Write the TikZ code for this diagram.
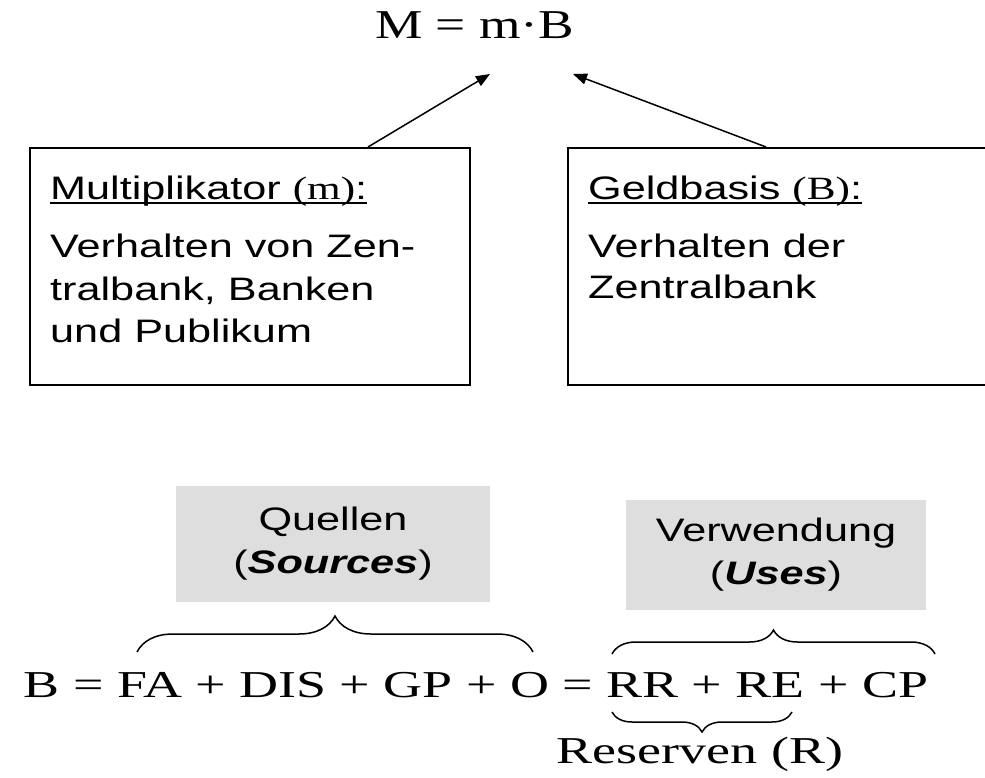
\documentclass[tikz,border=0pt]{standalone}
\usepackage{fontspec}
\setmainfont{Liberation Serif}
\newfontfamily\formelfont[FakeStretch=1.42]{Liberation Serif}
\newfontfamily\kopffont[FakeStretch=1.3]{Liberation Serif}
\newfontfamily\kastenfont[FakeStretch=1.33]{Liberation Sans}
\newfontfamily\kastenserif[FakeStretch=1.33]{Liberation Serif}
\usetikzlibrary{arrows.meta, positioning, decorations.pathreplacing}
\newcommand\unterstr[1]{\setbox0\hbox{#1}\rlap{\rule[-4pt]{\wd0}{2pt}}\box0}

\begin{document}
\begin{tikzpicture}[x=1pt, y=-1pt,
        kasten/.style={draw, line width=2pt, minimum width=440pt, minimum height=237pt, anchor=north west, inner sep=0pt},
        zeile/.style={anchor=base west, inner sep=0pt, font=\kastenfont\fontsize{32.5}{40}\selectfont},
        grau/.style={fill=black!13, inner sep=0pt, align=center, font=\kastenfont\fontsize{32.5}{43}\selectfont},
        formel/.style={anchor=base, inner sep=0pt, font=\formelfont\fontsize{38}{44}\selectfont},
        pfeil/.style={-{Triangle[length=14pt, width=11pt]}, line width=1.5pt},
        klammer/.style={decorate, decoration={brace, amplitude=#1}, line width=1.5pt}
    ]
    \useasboundingbox (0,0) rectangle (985,778);
    \clip (0,0) rectangle (985,778);

    % Geldmenge oben
    \node[anchor=base, inner sep=0pt, font=\kopffont\fontsize{41}{48}\selectfont] (kopf) at (474.5,39) {M = m·B};
    \coordinate (pfeilL) at (490,74);
    \coordinate (pfeilR) at (573,74);

    % Kästen
    \node[kasten] (multi) at (29,147) {};
    \node[kasten] (geld) at (567,147) {};

    \node[zeile] (multikopf) at (50,200) {\unterstr{Multiplikator {\kastenserif(m)}:}};
    \foreach \y/\txt in {257/Verhalten von Zen-, 300/{tralbank, Banken}, 342/und Publikum}
        \node[zeile] (multi\y) at (50,\y) {\txt};

    \node[zeile] (geldkopf) at (588,200) {\unterstr{Geldbasis {\kastenserif(B)}:}};
    \foreach \y/\txt in {257/Verhalten der, 298/Zentralbank}
        \node[zeile] (geld\y) at (588,\y) {\txt};

    % Pfeile
    \draw[pfeil] ([xshift=339pt]multi.north west) -- (pfeilL);
    \draw[pfeil] ([xshift=199pt]geld.north west) -- (pfeilR);

    % graue Felder
    \node[grau, minimum width=314pt, minimum height=116pt] (quellen) at (333,544) {Quellen\\(\textbf{\textit{Sources}})};
    \node[grau, minimum width=300pt, minimum height=110pt] (verw) at (776,555) {Verwendung\\(\textbf{\textit{Uses}})};

    % Gleichung
    \node[formel] (basis) at (476,697) {B = FA + DIS + GP + O = RR + RE + CP};
    \node[formel] (reserven) at (700,763) {Reserven (R)};

    % Klammern
    \coordinate (qa) at (137,652);
    \coordinate (qb) at (533,652);
    \coordinate (va) at (612,654);
    \coordinate (vb) at (935,654);
    \coordinate (ra) at (612,712);
    \coordinate (rb) at (792,712);
    \draw[klammer=36pt] (qa) -- (qb);
    \draw[klammer=24pt] (va) -- (vb);
    \draw[klammer=20pt] (rb) -- (ra);

\end{tikzpicture}
\end{document}
